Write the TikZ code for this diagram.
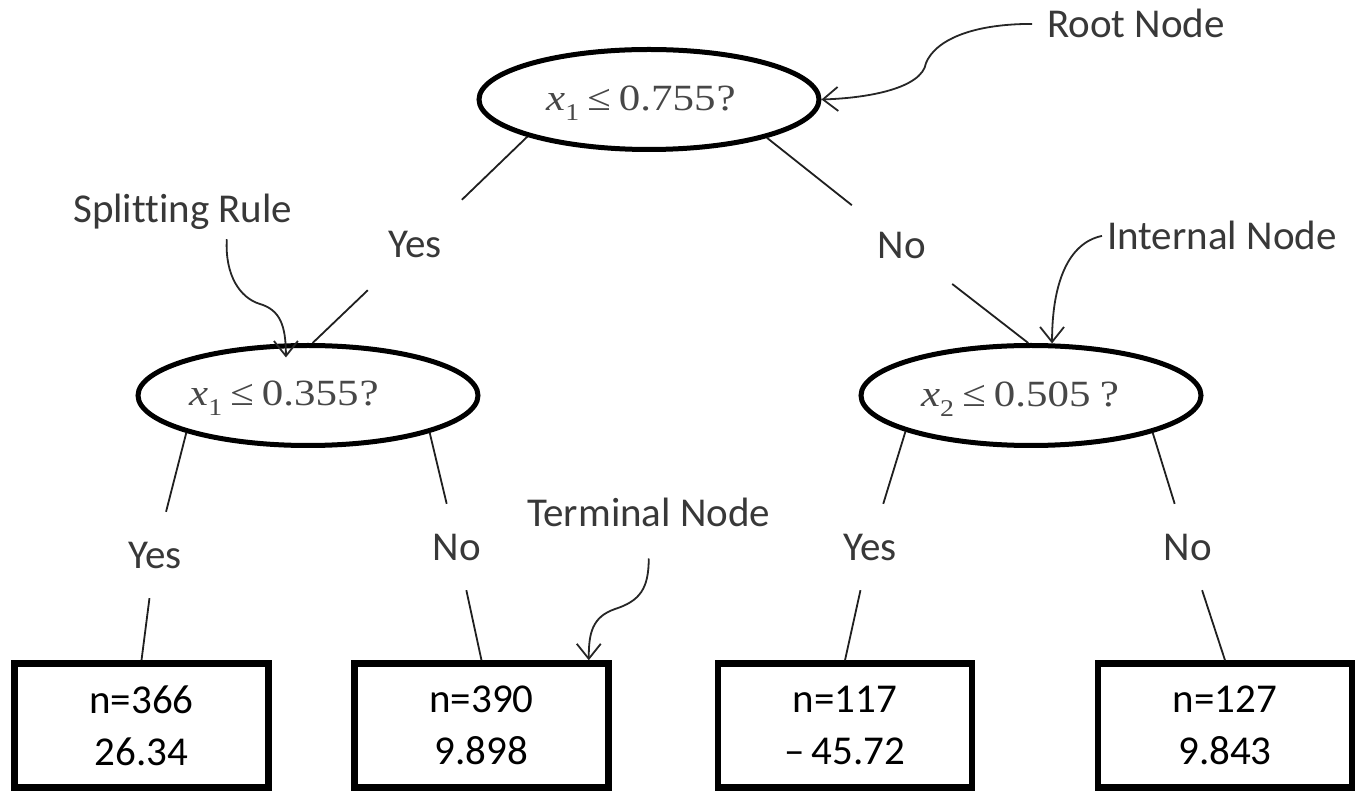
\documentclass[tikz,border=0pt]{standalone}
\usepackage{fontspec}
\setmainfont{Carlito}[Ligatures=NoCommon]
\newfontfamily\condserif{Liberation Serif}
\usepackage{graphicx}
\usetikzlibrary{arrows.meta,shapes.geometric}
\newcommand{\splitcond}[3]{\scalebox{1.16}[1]{\condserif\fontsize{37}{37}\selectfont\textit{x}\raisebox{-0.25em}{\fontsize{24}{24}\selectfont #1}\hspace{7pt}≤\hspace{7pt}#2#3?}}
\begin{document}
\begin{tikzpicture}[x=1pt,y=1pt,
  cond/.style={ellipse, draw=black, line width=5pt, minimum width=340pt, minimum height=100pt, inner sep=0pt},
  condtext/.style={inner sep=0pt, text=black!72},
  leaf/.style={draw=black, line width=6.5pt, minimum width=254pt, minimum height=124pt, inner sep=0pt, align=center, font=\fontsize{41}{52}\selectfont},
  ann/.style={inner sep=0pt, font=\fontsize{41}{49}\selectfont, text=black!78},
  yn/.style={inner sep=0pt, font=\fontsize{41}{49}\selectfont, text=black!78, minimum width=100pt, minimum height=90pt},
  ynlow/.style={yn, minimum width=60pt, minimum height=86pt},
  edge/.style={line width=1.8pt, draw=black!88},
  annot/.style={line width=1.8pt, draw=black!85, -{Straight Barb[length=15pt,width=24pt]}}
]
\useasboundingbox (0,0) rectangle (1360,793);

% decision nodes
\node[cond] (root) at (649,693.5) {};
\node[condtext, anchor=base] (rootT) at (641,682) {\splitcond{1}{0.755}{\hspace{1pt}}};
\node[cond] (left) at (308,397.5) {};
\node[condtext, anchor=base] (leftT) at (284,387) {\splitcond{1}{0.355}{\hspace{1pt}}};
\node[cond] (right) at (1031,397.5) {};
\node[condtext, anchor=base] (rightT) at (1020,386) {\splitcond{2}{0.505}{\hspace{8pt}}};

% terminal nodes
\node[leaf] (b1) at (141.5,67.5) {n=366\\26.34};
\node[leaf] (b2) at (481.5,67.5) {n=390\\9.898};
\node[leaf] (b3) at (845,67.5) {n=117\\–\,45.72};
\node[leaf] (b4) at (1225,67.5) {n=127\\9.843};

% edge labels
\node[yn] (yA) at (415,548) {Yes};
\node[yn] (nA) at (902,548) {No};
\node[ynlow] (yB) at (155,238) {Yes};
\node[ynlow] (nB) at (457,246) {No};
\node[ynlow] (yC) at (870,246) {Yes};
\node[ynlow] (nD) at (1188,246) {No};

% edges
\draw[edge] (root.197) -- (yA);
\draw[edge] (yA) -- (left.85);
\draw[edge] (root.342) -- (nA);
\draw[edge] (nA) -- (right.93);
\draw[edge] (left.197) -- (yB);
\draw[edge] (yB) -- (b1.north);
\draw[edge] (left.343) -- (nB);
\draw[edge] (nB) -- (b2.north);
\draw[edge] (right.196) -- (yC);
\draw[edge] (yC) -- (b3.north);
\draw[edge] (right.343) -- (nD);
\draw[edge] (nD) -- (b4.north);

% annotation labels
\node[ann, anchor=base west] (rootlbl) at (1047,755) {Root Node};
\node[ann, anchor=base west] (splitlbl) at (73,570) {Splitting Rule};
\node[ann, anchor=base west] (internallbl) at (1107,543) {Internal Node};
\node[ann, anchor=base west] (termlbl) at (527,266) {Terminal Node};

% annotation arrows
\coordinate (rootA) at ([xshift=-15pt]rootlbl.west);
\coordinate (rootbend) at (926,730);
\draw[annot] (rootA) .. controls +(-62,0) and +(9,22) .. (rootbend) .. controls +(-4,-25) and +(48,1.5) .. (root.east);

\coordinate (splitA) at ([xshift=44pt,yshift=-9pt]splitlbl.south);
\coordinate (splitbend) at (260,489);
\coordinate (splitend) at ([yshift=-14pt]left.113);
\draw[annot] (splitA) .. controls +(-2,-36) and +(-20,6) .. (splitbend) .. controls +(20,-6) and +(0,32) .. (splitend);

\coordinate (internalA) at ([xshift=-5pt]internallbl.west);
\draw[annot] (internalA) .. controls +(-34,-7) and +(0,60) .. (right.68);

\coordinate (termA) at ([yshift=-31pt]termlbl.south);
\coordinate (termbend) at (615,184);
\coordinate (termend) at ([xshift=-23pt]b2.north east);
\draw[annot] (termA) .. controls +(0,-30) and +(25,8) .. (termbend) .. controls +(-23,-8) and +(0,27) .. (termend);
\end{tikzpicture}
\end{document}
